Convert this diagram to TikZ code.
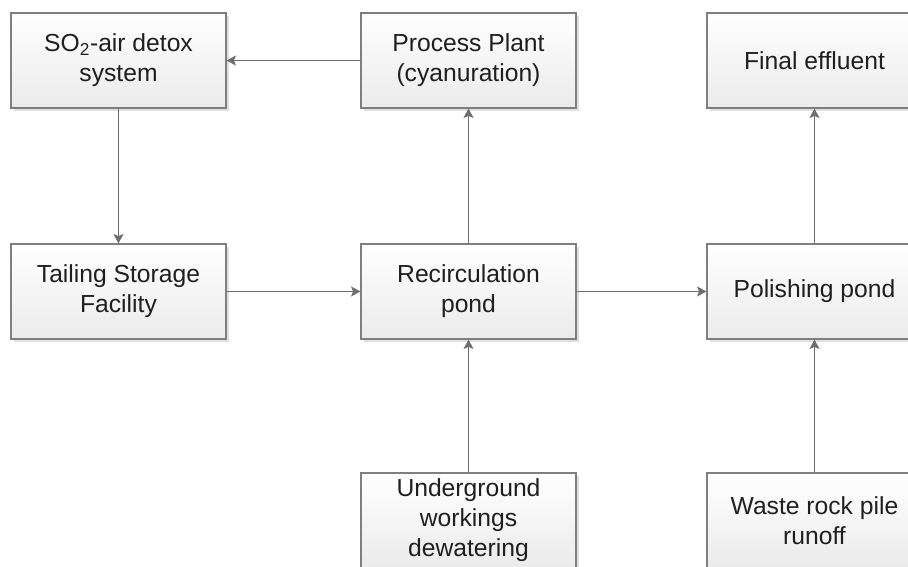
\documentclass[tikz,border=0pt]{standalone}
\usepackage{fontspec}
\setmainfont{Liberation Sans}
\usetikzlibrary{arrows.meta,shadows}
\definecolor{edgegray}{HTML}{7F7F7F}
\definecolor{linegray}{HTML}{6E6E6E}
\begin{document}
\begin{tikzpicture}[x=0.75pt,y=-0.75pt,
  box/.style={draw=edgegray,line width=0.9pt,top color=white,bottom color=black!8,
    minimum width=161.25pt,minimum height=71.25pt,inner sep=2pt,align=center,
    text=black!88,font=\fontsize{18.5}{22.5}\selectfont,
    drop shadow={shadow xshift=2pt,shadow yshift=-2pt,fill=black!25,opacity=0.5}},
  flow/.style={draw=linegray,line width=0.9pt,-{Stealth[length=7pt,width=7.5pt,inset=1.5pt]}}]
\useasboundingbox (0,0) rectangle (908,567);
\clip (0,0) rectangle (908,567);
\node[box] (so2) at (118.5,60.5) {SO\textsubscript{2}-air detox\\system};
\node[box] (proc) at (468.5,60.5) {Process Plant\\(cyanuration)};
\node[box] (final) at (814.5,60.5) {Final effluent};
\node[box] (tail) at (118.5,291.5) {Tailing Storage\\Facility};
\node[box] (recirc) at (468.5,291.5) {Recirculation\\pond};
\node[box] (polish) at (814.5,291.5) {Polishing pond};
\node[box] (under) at (468.5,520.5) {Underground\\workings\\dewatering};
\node[box] (waste) at (814.5,520.5) {Waste rock pile\\runoff};
\draw[flow] (proc) -- (so2);
\draw[flow] (so2) -- (tail);
\draw[flow] (tail) -- (recirc);
\draw[flow] (recirc) -- (proc);
\draw[flow] (recirc) -- (polish);
\draw[flow] (polish) -- (final);
\draw[flow] (under) -- (recirc);
\draw[flow] (waste) -- (polish);
\end{tikzpicture}
\end{document}
